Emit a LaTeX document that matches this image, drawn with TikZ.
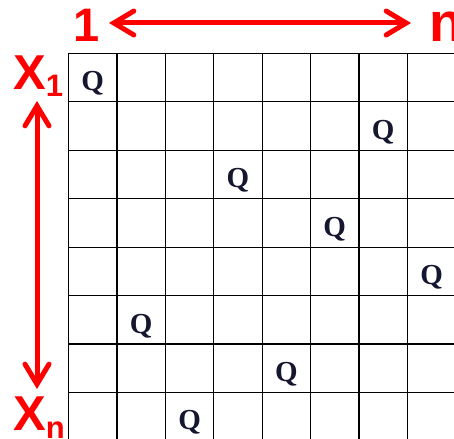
\documentclass[tikz,border=0pt]{standalone}
\usepackage{fontspec}
\setmainfont{Liberation Serif}
\newfontfamily\labelfont{Liberation Sans}
\usetikzlibrary{arrows.meta,calc}
\definecolor{boardRed}{RGB}{255, 0, 0}
\definecolor{boardInk}{RGB}{22, 22, 48}

\begin{document}
\begin{tikzpicture}[
  x=1pt,y=-1pt,
  cell/.style={draw=black,line width=1.1pt},
  queen/.style={anchor=base,inner sep=0pt,text=boardInk,font=\fontsize{29}{29}\selectfont\bfseries},
  redlabel/.style={anchor=base,inner sep=0pt,text=boardRed,font=\labelfont\bfseries},
  arrow/.style={{Straight Barb[length=20pt,width=24pt,line cap=round]}-{Straight Barb[length=20pt,width=24pt,line cap=round]},line width=5pt,boardRed}
]
  \useasboundingbox (0,0) rectangle (454,438);
  \clip (0,0) rectangle (454,438);
  % board
  \foreach \r in {0,...,7}
    \foreach \c in {0,...,7}
      \node[cell,minimum size=48.4pt,inner sep=0pt,anchor=north west] (sq-\r-\c) at (68+48.4*\c,53+48.4*\r) {};
  % queens, one per row
  \foreach \r/\c in {0/0,1/6,2/3,3/5,4/7,5/1,6/4,7/2}
    \node[queen] (q\r) at ($(sq-\r-\c.north)+(0,38)$) {Q};
  % labels
  \node[redlabel,font=\labelfont\bfseries\fontsize{47}{47}\selectfont] (one) at (87,42) {1};
  \node[redlabel,anchor=base west,font=\labelfont\bfseries\fontsize{55}{55}\selectfont] (en) at (429,42) {n};
  \node[redlabel,anchor=base west,font=\labelfont\bfseries\fontsize{49}{49}\selectfont] (xone) at (13,90) {X\raisebox{-7pt}{\fontsize{31}{31}\selectfont 1}};
  \node[redlabel,anchor=base west,font=\labelfont\bfseries\fontsize{49}{49}\selectfont] (xen) at (13,430) {X\raisebox{-8pt}{\fontsize{31}{31}\selectfont n}};
  \coordinate (hl) at (109,23);
  \coordinate (hr) at (411,23);
  \coordinate (vt) at (37,101);
  \coordinate (vb) at (37,389);
  \draw[arrow] (hl) -- (hr);
  \draw[arrow] (vt) -- (vb);
\end{tikzpicture}
\end{document}
